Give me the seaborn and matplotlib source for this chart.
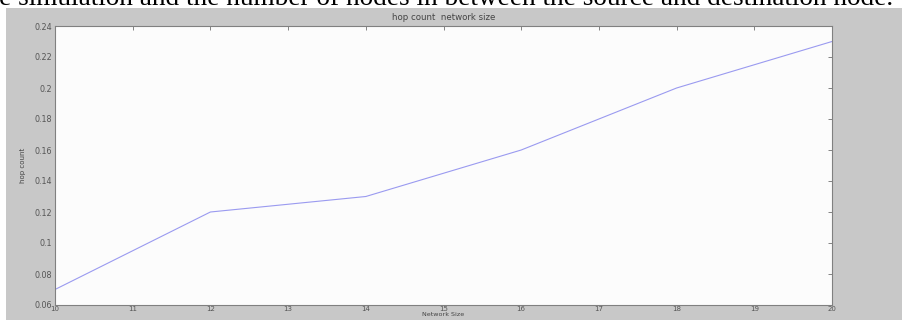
import matplotlib
matplotlib.use("Agg")
import matplotlib.pyplot as plt
import pandas as pd
import seaborn as sns
from matplotlib.patches import Rectangle

# Hop count measured for each simulated network size
network_size = [10, 12, 14, 16, 18, 20]
hop_count = [0.07, 0.12, 0.13, 0.16, 0.20, 0.23]
x_ticks = [10, 11, 12, 13, 14, 15, 16, 17, 18, 19, 20]
y_ticks = [0.06, 0.08, 0.10, 0.12, 0.14, 0.16, 0.18, 0.20, 0.22, 0.24]
y_tick_labels = ["0.06", "0.08", "0.1", "0.12", "0.14", "0.16", "0.18", "0.2", "0.22", "0.24"]

df = pd.DataFrame({"Network Size": network_size, "hop count": hop_count})

sns.set_style("white")
plt.rcParams["font.family"] = ["DejaVu Sans"]

W, H = 902, 320
fig = plt.figure(figsize=(W / 100, H / 100), dpi=100, facecolor="white")

# grey window background below the caption line
fig.patches.append(Rectangle((6 / W, 0), 1 - 6 / W, (H - 8) / H,
                             transform=fig.transFigure, facecolor="#c8c8c8",
                             edgecolor="none", zorder=-5))

# caption line of surrounding text, clipped at the top edge
fig.text(-1 / W, 1 - 5 / H,
         "e simulation and the number of nodes in between the source and destination node.",
         family="Liberation Serif", fontsize=19.6, color="black", va="baseline", ha="left")

ax = fig.add_axes([55 / W, (H - 305) / H, 777 / W, 279 / H])
ax.set_zorder(2)
ax.set_facecolor("#fcfcfc")

sns.lineplot(data=df, x="Network Size", y="hop count", ax=ax,
             color="#9a9af0", linewidth=0.8)

ax.set_xlim(10, 20)
ax.set_ylim(0.06, 0.24)
ax.set_xticks(x_ticks)
ax.set_xticklabels([str(t) for t in x_ticks])
ax.set_yticks(y_ticks)
ax.set_yticklabels(y_tick_labels)

for s in ax.spines.values():
    s.set_color("#808080")
    s.set_linewidth(0.8)

ax.tick_params(axis="both", direction="in", length=3, width=0.6, color="#707070",
               labelcolor="#555555", top=True, right=True)
ax.tick_params(axis="y", labelsize=5.8, pad=2)
ax.tick_params(axis="x", labelsize=5, pad=1)

ax.set_title("hop count  network size", fontsize=6.2, color="#444444", pad=4)
ax.set_xlabel("Network Size", fontsize=4.6, color="#444444", labelpad=0)
ax.set_ylabel("hop count", fontsize=5, color="#444444", labelpad=6)

fig.savefig("out.png", dpi=100, facecolor="white")
